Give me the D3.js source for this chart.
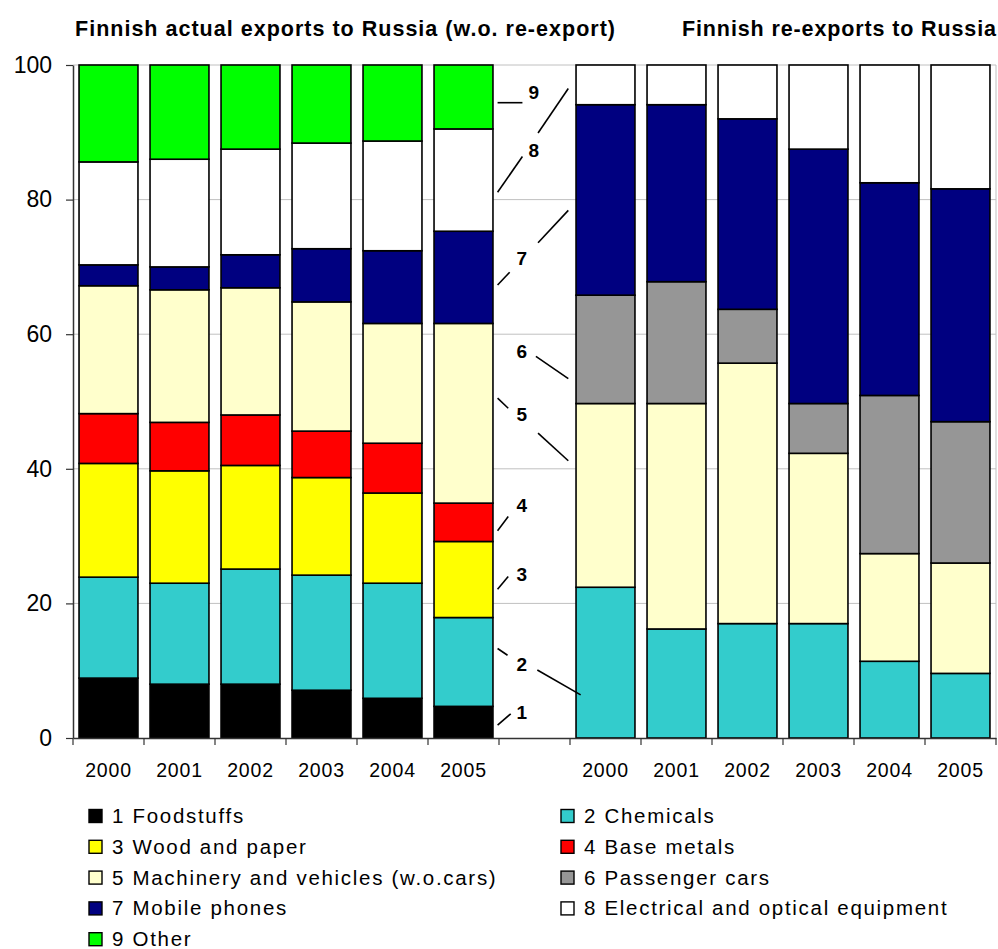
<!DOCTYPE html>
<html>
<head>
<meta charset="utf-8">
<script src="https://cdn.jsdelivr.net/npm/d3@7"></script>
<style>
  html, body { margin: 0; padding: 0; background: #fff; }
  svg { display: block; font-family: "Liberation Sans", Arial, sans-serif; }
</style>
</head>
<body>
<svg id="chart" width="998" height="949"></svg>
<script>
// ---------------- data ----------------
const years = ["2000", "2001", "2002", "2003", "2004", "2005"];
const categories = [
  "1 Foodstuffs", "2 Chemicals", "3 Wood and paper", "4 Base metals",
  "5 Machinery and vehicles (w.o.cars)", "6 Passenger cars", "7 Mobile phones",
  "8 Electrical and optical equipment", "9 Other"
];
const colors = ["#000000", "#33CCCC", "#FFFF00", "#FF0000", "#FFFFCC", "#969696", "#000080", "#FFFFFF", "#00FF00"];
const titles = ["Finnish actual exports to Russia (w.o. re-export)", "Finnish re-exports to Russia"];
const yTicks = [0, 20, 40, 60, 80, 100];

// Finnish actual exports (w.o. re-export), % shares by category
const exFood       = [8.9, 8.0, 8.0, 7.1, 5.9, 4.7];
const exChemicals  = [15.0, 15.0, 17.1, 17.1, 17.1, 13.2];
const exWood       = [16.9, 16.7, 15.4, 14.5, 13.4, 11.3];
const exMetals     = [7.4, 7.2, 7.5, 6.9, 7.4, 5.7];
const exMachinery  = [19.0, 19.7, 18.9, 19.2, 17.8, 26.7];
const exCars       = [0, 0, 0, 0, 0, 0];
const exMobile     = [3.1, 3.4, 4.9, 7.9, 10.8, 13.7];
const exElectrical = [15.3, 16.0, 15.7, 15.7, 16.3, 15.2];
const exOther      = [14.4, 14.0, 12.5, 11.6, 11.3, 9.5];

// Finnish re-exports, % shares by category
const reFood       = [0, 0, 0, 0, 0, 0];
const reChemicals  = [22.4, 16.2, 17.0, 17.0, 11.4, 9.6];
const reWood       = [0, 0, 0, 0, 0, 0];
const reMetals     = [0, 0, 0, 0, 0, 0];
const reMachinery  = [27.3, 33.5, 38.7, 25.3, 16.0, 16.4];
const reCars       = [16.1, 18.1, 8.0, 7.4, 23.5, 21.0];
const reMobile     = [28.3, 26.3, 28.3, 37.8, 31.6, 34.6];
const reElectrical = [5.9, 5.9, 8.0, 12.5, 17.5, 18.4];
const reOther      = [0, 0, 0, 0, 0, 0];

// numbered call-out labels in the gap between the two groups: [label, value]
const calloutLabels = [["1", 3.9], ["2", 11.0], ["3", 24.4], ["4", 34.6], ["5", 48.1],
                       ["6", 57.5], ["7", 71.3], ["8", 87.3], ["9", 95.9]];
// call-out leader lines: [fromFrac, fromValue, toFrac, toValue] (frac = position across gap slot)
const calloutLines = [
  [-0.02, 1.9, 0.165, 3.6],
  [-0.02, 13.3, 0.12, 12.3], [0.54, 10.1, 1.15, 6.4],
  [-0.02, 22.1, 0.13, 24.0],
  [-0.02, 30.8, 0.13, 32.9],
  [-0.02, 50.5, 0.13, 49.0], [0.55, 45.3, 0.976, 41.2],
  [0.52, 56.7, 0.976, 53.4],
  [-0.02, 67.3, 0.15, 69.2], [0.55, 73.6, 0.976, 78.4],
  [-0.02, 81.1, 0.33, 86.4], [0.55, 89.9, 0.976, 96.5],
  [-0.02, 94.4, 0.33, 94.4]
];

// ---------------- build tables ----------------
const exSeries = [exFood, exChemicals, exWood, exMetals, exMachinery, exCars, exMobile, exElectrical, exOther];
const reSeries = [reFood, reChemicals, reWood, reMetals, reMachinery, reCars, reMobile, reElectrical, reOther];
const keys = categories.map((c, i) => "k" + i);
function rows(series, prefix) {
  return years.map((y, yi) => {
    const r = { slot: prefix + y, year: y };
    series.forEach((s, i) => r[keys[i]] = s[yi]);
    return r;
  });
}
const table = rows(exSeries, "A").concat(rows(reSeries, "B"));
const slots = years.map(y => "A" + y).concat(["gap"], years.map(y => "B" + y));

// ---------------- scales ----------------
const svg = d3.select("#chart");
const FONT = "'Liberation Sans', Arial, sans-serif";
const plot = { left: 73, right: 996, top: 65, bottom: 738 };
const x = d3.scaleBand().domain(slots).range([plot.left, plot.right])
  .paddingInner(0.17).paddingOuter(0.085);
const y = d3.scaleLinear().domain([0, 100]).range([plot.bottom, plot.top]);
const color = d3.scaleOrdinal().domain(keys).range(colors);

// gridlines
svg.append("g").selectAll("line").data(yTicks.filter(d => d > 0)).join("line")
  .attr("x1", plot.left).attr("x2", plot.right)
  .attr("y1", d => y(d)).attr("y2", d => y(d))
  .attr("stroke", "#c0c0c0").attr("stroke-width", 1);
svg.append("line").attr("x1", plot.right).attr("x2", plot.right)
  .attr("y1", plot.top).attr("y2", plot.bottom).attr("stroke", "#c0c0c0");

// stacked bars
const stacked = d3.stack().keys(keys)(table);
const gBars = svg.append("g");
stacked.forEach(layer => {
  gBars.append("g").attr("fill", color(layer.key))
    .selectAll("rect").data(layer.filter(d => d[1] - d[0] > 0)).join("rect")
    .attr("x", d => x(d.data.slot))
    .attr("width", x.bandwidth())
    .attr("y", d => y(d[1]))
    .attr("height", d => y(d[0]) - y(d[1]))
    .attr("stroke", "#000").attr("stroke-width", 1.6);
});

// y axis
const yAxis = svg.append("g").attr("transform", `translate(${plot.left},0)`)
  .call(d3.axisLeft(y).tickValues(yTicks).tickSize(7).tickSizeOuter(0).tickPadding(14));
yAxis.attr("font-family", FONT).attr("font-size", 23);
yAxis.select(".domain").attr("stroke", "#333").attr("stroke-width", 1.5);
yAxis.selectAll(".tick line").attr("stroke", "#333").attr("stroke-width", 1.2);
yAxis.selectAll("text").attr("fill", "#000").style("font-size", "23px");

// x axis
const xAxis = svg.append("g").attr("transform", `translate(0,${plot.bottom})`)
  .call(d3.axisBottom(x).tickSize(0).tickSizeOuter(0).tickPadding(25)
    .tickFormat(d => d === "gap" ? "" : d.slice(1)));
xAxis.attr("font-family", FONT).attr("font-size", 19.5);
xAxis.select(".domain").attr("stroke", "#333").attr("stroke-width", 1.5);
xAxis.selectAll("text").attr("fill", "#000").attr("letter-spacing", "0.8px");
// slot boundary tick marks
const step = x.step();
const boundaries = d3.range(slots.length + 1).map(i => plot.left + i * step);
xAxis.append("g").selectAll("line").data(boundaries).join("line")
  .attr("x1", d => d).attr("x2", d => d).attr("y1", 0).attr("y2", 7)
  .attr("stroke", "#333").attr("stroke-width", 1.2);

// titles
svg.append("text").attr("x", 75).attr("y", 36).text(titles[0])
  .attr("font-family", FONT).attr("font-weight", "bold").style("font-size", "21.5px")
  .attr("textLength", 540).attr("lengthAdjust", "spacing");
svg.append("text").attr("x", 682).attr("y", 36).text(titles[1])
  .attr("font-family", FONT).attr("font-weight", "bold").style("font-size", "21.5px")
  .attr("textLength", 314).attr("lengthAdjust", "spacing");

// call-outs
const gapStart = plot.left + slots.indexOf("gap") * step;
svg.append("g").selectAll("line").data(calloutLines).join("line")
  .attr("x1", d => gapStart + d[0] * step).attr("y1", d => y(d[1]))
  .attr("x2", d => gapStart + d[2] * step).attr("y2", d => y(d[3]))
  .attr("stroke", "#000").attr("stroke-width", 1.6);
svg.append("g").selectAll("text").data(calloutLabels).join("text")
  .attr("x", d => (+d[0] >= 8 ? gapStart + 0.49 * step : gapStart + 0.32 * step))
  .attr("y", d => y(d[1]))
  .attr("dy", "0.36em")
  .attr("text-anchor", "middle")
  .attr("font-family", FONT).attr("font-weight", "bold").style("font-size", "19px")
  .text(d => d[0]);

// legend
const legendLeft = [0, 2, 4, 6, 8], legendRight = [1, 3, 5, 7];
function legendCol(idx, sx) {
  const g = svg.append("g").selectAll("g").data(idx).join("g")
    .attr("transform", (d, i) => `translate(${sx},${816 + i * 30.8})`);
  g.append("rect").attr("x", 0).attr("y", -6.5).attr("width", 13).attr("height", 13)
    .attr("fill", d => colors[d]).attr("stroke", "#000").attr("stroke-width", 1.4);
  g.append("text").attr("x", 23).attr("y", 0).attr("dy", "0.34em")
    .attr("font-family", FONT).style("font-size", "20.5px").attr("letter-spacing", "1.7px")
    .text(d => categories[d]);
}
legendCol(legendLeft, 89);
legendCol(legendRight, 561);
</script>
</body>
</html>
